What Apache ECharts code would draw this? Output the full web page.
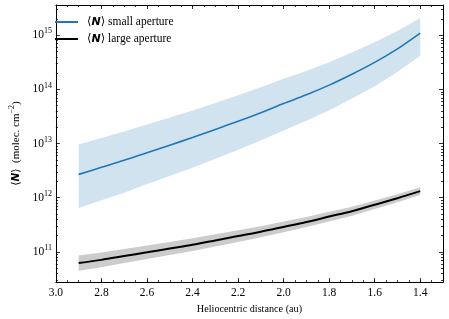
<!DOCTYPE html>
<html>
<head>
<meta charset="utf-8">
<script src="https://cdn.jsdelivr.net/npm/echarts@6/dist/echarts.min.js"></script>
<style>html,body{margin:0;padding:0;background:#fff;}#c{width:449px;height:319px;}</style>
</head>
<body>
<div id="c"></div>
<script>
// Heliocentric distance (au)
const distance = [2.9, 2.8, 2.7, 2.6, 2.5, 2.4, 2.3, 2.2, 2.1, 2.0, 1.9, 1.8, 1.7, 1.6, 1.5, 1.4];
// <N> small aperture (molec. cm^-2) and its band
const smallN     = [2.69e12, 3.63e12, 4.90e12, 6.76e12, 9.33e12, 1.29e13, 1.82e13, 2.57e13, 3.72e13, 5.50e13, 7.94e13, 1.20e14, 1.91e14, 3.16e14, 5.62e14, 1.10e15];
const smallUpper = [9.55e12, 1.26e13, 1.66e13, 2.24e13, 3.02e13, 4.07e13, 5.62e13, 7.76e13, 1.10e14, 1.58e14, 2.19e14, 3.16e14, 4.79e14, 7.41e14, 1.20e15, 2.09e15];
const smallLower = [6.46e11, 8.91e11, 1.23e12, 1.78e12, 2.51e12, 3.55e12, 5.25e12, 7.59e12, 1.15e13, 1.74e13, 2.63e13, 4.07e13, 6.76e13, 1.15e14, 2.09e14, 4.17e14];
// <N> large aperture and its band
const largeN     = [6.17e10, 7.08e10, 8.32e10, 9.77e10, 1.15e11, 1.35e11, 1.62e11, 1.95e11, 2.34e11, 2.88e11, 3.55e11, 4.47e11, 5.62e11, 7.41e11, 9.77e11, 1.32e12];
const largeUpper = [8.51e10, 9.66e10, 1.12e11, 1.31e11, 1.52e11, 1.77e11, 2.10e11, 2.49e11, 2.97e11, 3.61e11, 4.40e11, 5.48e11, 6.82e11, 8.89e11, 1.16e12, 1.55e12];
const largeLower = [4.47e10, 5.19e10, 6.17e10, 7.31e10, 8.69e10, 1.03e11, 1.25e11, 1.52e11, 1.85e11, 2.30e11, 2.86e11, 3.64e11, 4.63e11, 6.18e11, 8.22e11, 1.12e12];
// tick labels
const xTicks = [3.0, 2.8, 2.6, 2.4, 2.2, 2.0, 1.8, 1.6, 1.4];
const yTicks = [1e11, 1e12, 1e13, 1e14, 1e15];
const seriesNames = ['small', 'large'];

const X_MIN = 1.3, X_MAX = 3.0;
const Y_MIN = 2.75e10, Y_MAX = 3.63e15;

const xMinor = [];
for (let i = 0; i <= 34; i++) { const v = +(1.3 + i * 0.05).toFixed(2); if (v >= X_MIN && v <= X_MAX) xMinor.push(v); }
const yMinor = [];
for (let d = 10; d <= 15; d++) for (let m = 2; m <= 9; m++) { const v = m * Math.pow(10, d); if (v >= Y_MIN && v <= Y_MAX) yMinor.push(v); }

const serif = "'Liberation Serif', 'DejaVu Serif', serif";
const sans = "'DejaVu Sans', sans-serif";
const FRAME = '#000';

function xAx(pos, vals, len, showLine, showLabel) {
  return {
    type: 'value', position: pos, inverse: true, min: X_MIN, max: X_MAX,
    axisLine: { show: showLine, lineStyle: { color: FRAME, width: 1 } },
    axisTick: { show: true, inside: true, length: len, customValues: vals, lineStyle: { color: FRAME, width: 0.8 } },
    axisLabel: showLabel ? { show: true, customValues: vals, formatter: v => v.toFixed(1), fontFamily: serif, fontSize: 11.5, color: '#000', margin: 5 } : { show: false },
    splitLine: { show: false },
    name: showLabel ? 'Heliocentric distance (au)' : '',
    nameLocation: 'middle', nameGap: 18,
    nameTextStyle: { fontFamily: serif, fontSize: 10.2, color: '#000' }
  };
}
function yAx(pos, vals, len, showLine, showLabel) {
  return {
    type: 'log', logBase: 10, position: pos, min: Y_MIN, max: Y_MAX,
    axisLine: { show: showLine, lineStyle: { color: FRAME, width: 1 } },
    axisTick: { show: true, inside: true, length: len, customValues: vals, lineStyle: { color: FRAME, width: 0.8 } },
    axisLabel: showLabel ? {
      show: true, customValues: vals, margin: 4,
      formatter: v => '{b|10}{s|' + Math.round(Math.log10(v)) + '}',
      rich: { b: { fontFamily: serif, fontSize: 11.5, color: '#000' }, s: { fontFamily: serif, fontSize: 8, color: '#000', verticalAlign: 'bottom', padding: [0, 0, 8, 0] } }
    } : { show: false },
    splitLine: { show: false },
    name: showLabel ? '{a|⟨}{n|N}{a|⟩  (molec. cm}{s|−2}{a|)}' : '',
    nameLocation: 'middle', nameGap: 29, nameRotate: 90,
    nameTextStyle: { rich: {
      a: { fontFamily: serif, fontSize: 11, color: '#000' },
      n: { fontFamily: sans, fontSize: 10.5, fontStyle: 'italic', fontWeight: 'bold', color: '#000' },
      s: { fontFamily: serif, fontSize: 8, color: '#000', verticalAlign: 'bottom', padding: [0, 0, 8, 0] }
    } }
  };
}

function bandSeries(upper, lower, color) {
  return {
    type: 'custom', xAxisIndex: 0, yAxisIndex: 0, silent: true, z: 1,
    data: [[distance[0], upper[0]]],
    renderItem: function (params, api) {
      const pts = [];
      for (let i = 0; i < distance.length; i++) pts.push(api.coord([distance[i], upper[i]]));
      for (let i = distance.length - 1; i >= 0; i--) pts.push(api.coord([distance[i], lower[i]]));
      return { type: 'polygon', shape: { points: pts }, style: { fill: color, stroke: null } };
    }
  };
}

const chart = echarts.init(document.getElementById('c'), null, { renderer: 'canvas' });
chart.setOption({
  animation: false,
  backgroundColor: '#fff',
  grid: { left: 45, right: 6, top: 5, bottom: 32, containLabel: false },
  xAxis: [
    xAx('bottom', xTicks, 4, true, true),
    xAx('bottom', xMinor, 2, false, false),
    xAx('top', xTicks, 4, true, false),
    xAx('top', xMinor, 2, false, false)
  ],
  yAxis: [
    yAx('left', yTicks, 4, true, true),
    yAx('left', yMinor, 2, false, false),
    yAx('right', yTicks, 4, true, false),
    yAx('right', yMinor, 2, false, false)
  ],
  legend: {
    left: 50, top: 11, orient: 'vertical', itemGap: 5, itemWidth: 23, itemHeight: 2,
    data: [
      { name: seriesNames[0], icon: 'rect', itemStyle: { color: '#1f77b4' } },
      { name: seriesNames[1], icon: 'rect', itemStyle: { color: '#000' } }
    ],
    formatter: n => n === 'small' ? '{a|⟨}{n|N}{a|⟩ small aperture}' : '{a|⟨}{n|N}{a|⟩ large aperture}',
    textStyle: { padding: [0, 0, 0, 4], rich: {
      a: { fontFamily: serif, fontSize: 11.5, color: '#000' },
      n: { fontFamily: sans, fontSize: 11, fontStyle: 'italic', fontWeight: 'bold', color: '#000' }
    } }
  },
  series: [
    bandSeries(smallUpper, smallLower, 'rgb(210,227,240)'),
    bandSeries(largeUpper, largeLower, 'rgb(204,204,204)'),
    {
      name: 'small', type: 'line', xAxisIndex: 0, yAxisIndex: 0, z: 3,
      data: distance.map((d, i) => [d, smallN[i]]), showSymbol: false, smooth: 0.3,
      lineStyle: { color: '#1f77b4', width: 1.6 }, itemStyle: { color: '#1f77b4' }
    },
    {
      name: 'large', type: 'line', xAxisIndex: 0, yAxisIndex: 0, z: 3,
      data: distance.map((d, i) => [d, largeN[i]]), showSymbol: false, smooth: 0.3,
      lineStyle: { color: '#000', width: 2 }, itemStyle: { color: '#000' }
    }
  ]
});
</script>
</body>
</html>
